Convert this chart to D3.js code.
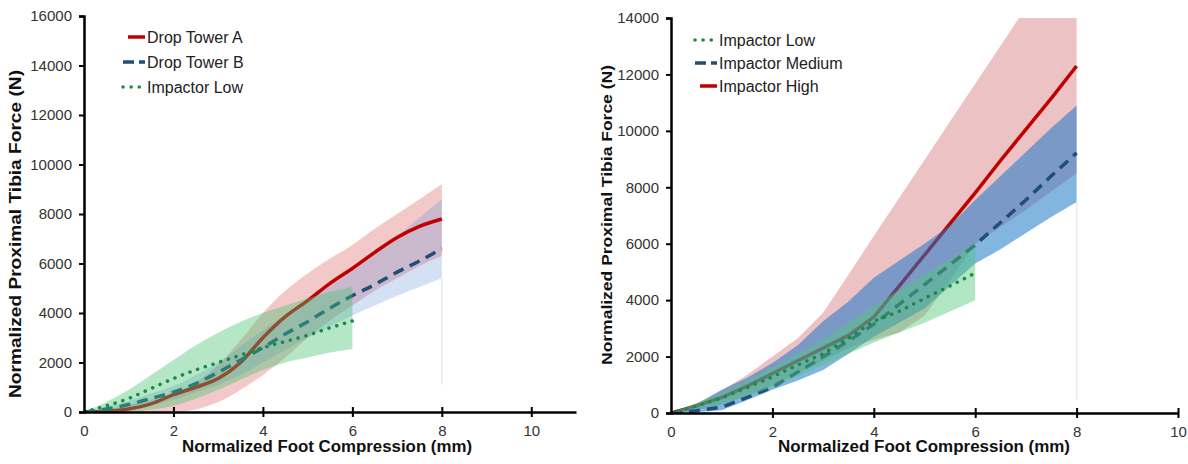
<!DOCTYPE html>
<html>
<head>
<meta charset="utf-8">
<style>
  body { margin: 0; background: #fff; }
  svg { display: block; font-family: "Liberation Sans", Arial, sans-serif; }
  .tick text { font-size: 15px; fill: #333; }
  .axis path, .axis line { stroke: #000; }
  .ttl { font-weight: bold; fill: #111; }
  .leg { font-size: 16px; fill: #222; }
</style>
</head>
<body>
<svg id="chart" width="1188" height="464"></svg>
<script src="https://cdn.jsdelivr.net/npm/d3@7"></script>
<script>
// ---- left panel data (x in mm, force in N)
const leftX = [0, 0.5, 1, 1.5, 2, 2.5, 3, 3.5, 4, 4.5, 5, 5.5, 6, 6.5, 7, 7.5, 8];
const dropA = [0, 30, 120, 330, 700, 1000, 1350, 2000, 3000, 3850, 4500, 5200, 5800, 6450, 7050, 7500, 7800];
const dropAHi = [0, 100, 300, 500, 750, 1200, 1900, 2900, 4000, 4900, 5600, 6200, 6750, 7400, 8000, 8600, 9200];
const dropALo = [0, 0, 0, 0, 0, 100, 400, 900, 1500, 2200, 3000, 3700, 4300, 4900, 5400, 5900, 6300];
const dropB = [0, 120, 300, 550, 800, 1150, 1600, 2100, 2600, 3150, 3650, 4200, 4700, 5150, 5650, 6100, 6600];
const dropBHi = [0, 200, 450, 750, 1050, 1500, 2000, 2650, 3300, 3900, 4500, 5100, 5700, 6400, 7100, 7850, 8600];
const dropBLo = [0, 50, 150, 300, 500, 800, 1100, 1500, 2000, 2500, 3000, 3450, 3900, 4300, 4700, 5050, 5400];
const lowX = [0, 0.5, 1, 1.5, 2, 2.5, 3, 3.5, 4, 4.5, 5, 5.5, 6];
const lowL = [0, 250, 550, 950, 1350, 1700, 2000, 2300, 2600, 2850, 3100, 3400, 3680];
const lowLHi = [0, 400, 900, 1500, 2100, 2700, 3200, 3650, 4000, 4300, 4600, 4850, 5050];
const lowLLo = [0, 0, 0, 100, 250, 550, 900, 1300, 1700, 2000, 2200, 2400, 2550];

// ---- right panel data
const rightX = [0, 0.5, 1, 1.5, 2, 2.5, 3, 3.5, 4, 4.5, 5, 5.5, 6, 6.5, 7, 7.5, 8];
const high = [0, 250, 550, 950, 1400, 1850, 2300, 2750, 3400, 4500, 5600, 6700, 7800, 8950, 10050, 11150, 12300];
const highHi = [0, 350, 800, 1350, 2000, 2650, 3550, 4900, 6270, 7620, 8970, 10320, 11670, 13020, 14370, 15720, 17070];
const highLo = [0, 100, 300, 600, 1000, 1400, 1850, 2300, 2600, 2850, 3450, 4700, 6000, 6600, 7200, 7850, 8500];
const med = [0, 80, 210, 550, 920, 1450, 1990, 2550, 3150, 3850, 4550, 5250, 5960, 6750, 7550, 8400, 9220];
const medHi = [0, 300, 820, 1250, 1770, 2400, 3250, 3950, 4790, 5400, 6000, 6650, 7550, 8400, 9250, 10100, 10900];
const medLo = [0, 30, 100, 450, 820, 1150, 1520, 2100, 2700, 3200, 3700, 4500, 5300, 5800, 6380, 6950, 7480];
const lowR = [0, 250, 530, 900, 1280, 1700, 2100, 2650, 3250, 3600, 4060, 4500, 4960];
const lowRHi = [0, 350, 700, 1150, 1600, 2100, 2600, 3200, 3800, 4350, 4900, 5450, 6030];
const lowRLo = [0, 150, 300, 600, 900, 1300, 1700, 2100, 2500, 2850, 3200, 3600, 4000];

const xTicks = [0, 2, 4, 6, 8, 10];

const RED = "#c00000", BLUE = "#1f4e79", GREEN = "#1b8a45";

const svg = d3.select("#chart");

function panel(cfg) {
  const x = d3.scaleLinear().domain(cfg.xDom).range(cfg.xRange);
  const y = d3.scaleLinear().domain(cfg.yDom).range(cfg.yRange);
  const g = svg.append("g");

  const clipId = "clip" + cfg.id;
  g.append("clipPath").attr("id", clipId).append("rect")
    .attr("x", cfg.xRange[0]).attr("y", cfg.yRange[1])
    .attr("width", cfg.xRange[1] - cfg.xRange[0])
    .attr("height", cfg.yRange[0] - cfg.yRange[1]);
  const plot = g.append("g").attr("clip-path", `url(#${clipId})`);

  const area = (xs, lo, hi) => d3.area().curve(cfg.curve)
    .x((d, i) => x(xs[i])).y0((d, i) => y(lo[i])).y1((d, i) => y(hi[i]))(xs);
  const line = (xs, ys) => d3.line().x((d, i) => x(xs[i])).y((d, i) => y(ys[i]))
    .curve(cfg.curve)(xs);

  // faint vertical error line at the last point
  plot.append("line")
    .attr("x1", x(8)).attr("x2", x(8))
    .attr("y1", y(cfg.faint[0])).attr("y2", y(cfg.faint[1]))
    .attr("stroke", "#e3ebf5").attr("stroke-width", 1.5);

  cfg.layers.forEach(l => {
    if (l.type === "band") {
      plot.append("path").attr("d", area(l.xs, l.lo, l.hi)).attr("fill", l.fill);
    } else {
      plot.append("path").attr("d", line(l.xs, l.ys))
        .attr("fill", "none").attr("stroke", l.color).attr("stroke-width", 3.5)
        .attr("stroke-linecap", l.dash === "dot" ? "round" : "butt")
        .attr("stroke-dasharray", l.dash === "dash" ? "11,7" : l.dash === "dot" ? "0.1,8" : null);
    }
  });

  // axes
  const yAxis = g.append("g").attr("class", "axis")
    .attr("transform", `translate(${cfg.xRange[0]},0)`)
    .call(d3.axisLeft(y).tickValues(d3.range(cfg.yDom[0], cfg.yDom[1] + 1, 2000))
      .tickSize(5).tickPadding(7).tickFormat(d3.format("d")));
  yAxis.select(".domain").attr("stroke-width", 2.5);
  yAxis.selectAll(".tick line").attr("stroke-width", 2);

  const xAxis = g.append("g").attr("class", "axis")
    .attr("transform", `translate(0,${cfg.yRange[0]})`)
    .call(d3.axisBottom(x).tickValues(xTicks).tickSize(5).tickPadding(8).tickSizeOuter(0));
  xAxis.select(".domain").attr("stroke-width", 2.5);
  xAxis.selectAll(".tick line").attr("y1", -5).attr("stroke-width", 2);
  xAxis.selectAll(".tick").filter(d => d === 0).select("line").remove();

  // titles
  g.append("text").attr("class", "ttl")
    .attr("x", cfg.xTitle[0]).attr("y", cfg.xTitle[1])
    .attr("text-anchor", "middle").attr("font-size", cfg.xTitle[3])
    .attr("textLength", cfg.xTitle[2]).attr("lengthAdjust", "spacingAndGlyphs")
    .text("Normalized Foot Compression (mm)");
  g.append("text").attr("class", "ttl")
    .attr("transform", `translate(${cfg.yTitle[0]},${cfg.yTitle[1]}) rotate(-90)`)
    .attr("text-anchor", "middle").attr("font-size", cfg.yTitle[3])
    .attr("textLength", cfg.yTitle[2]).attr("lengthAdjust", "spacingAndGlyphs")
    .text("Normalized Proximal Tibia Force (N)");

  // legend
  cfg.legend.forEach((l, i) => {
    const ly = cfg.legPos[1] + i * cfg.legStep;
    g.append("line")
      .attr("x1", cfg.legPos[0] + (l.dash ? 0 : 5)).attr("x2", cfg.legPos[0] + 22)
      .attr("y1", ly).attr("y2", ly)
      .attr("stroke", l.color).attr("stroke-width", 3.5)
      .attr("stroke-linecap", l.dash === "dot" ? "round" : "butt")
      .attr("stroke-dasharray", l.dash === "dash" ? "11,5" : l.dash === "dot" ? "0.1,8" : null);
    g.append("text").attr("class", "leg")
      .attr("x", cfg.legPos[0] + 24).attr("y", ly).attr("dy", "0.35em")
      .text(l.name);
  });
}

panel({
  id: "L", xDom: [0, 11], xRange: [84, 576], yDom: [0, 16000], yRange: [412, 16],
  curve: d3.curveMonotoneX,
  faint: [5400, 1100],
  layers: [
    { type: "band", xs: leftX, lo: dropALo, hi: dropAHi, fill: "rgba(222,110,110,0.38)" },
    { type: "band", xs: leftX, lo: dropBLo, hi: dropBHi, fill: "rgba(100,145,215,0.28)" },
    { type: "line", xs: leftX, ys: dropA, color: RED },
    { type: "line", xs: leftX, ys: dropB, color: BLUE, dash: "dash" },
    { type: "band", xs: lowX, lo: lowLLo, hi: lowLHi, fill: "rgba(70,195,115,0.4)" },
    { type: "line", xs: lowX, ys: lowL, color: GREEN, dash: "dot" }
  ],
  xTitle: [327, 452, 290, 16], yTitle: [21, 234, 328, 16],
  legPos: [123, 37], legStep: 25,
  legend: [
    { name: "Drop Tower A", color: RED },
    { name: "Drop Tower B", color: BLUE, dash: "dash" },
    { name: "Impactor Low", color: GREEN, dash: "dot" }
  ]
});

panel({
  id: "R", xDom: [0, 10], xRange: [671, 1178], yDom: [0, 14000], yRange: [413, 18],
  curve: d3.curveLinear,
  faint: [7480, 460],
  layers: [
    { type: "band", xs: rightX, lo: highLo, hi: highHi, fill: "rgba(205,95,100,0.38)" },
    { type: "line", xs: rightX, ys: high, color: RED },
    { type: "band", xs: rightX, lo: medLo, hi: medHi, fill: "rgba(30,120,200,0.55)" },
    { type: "line", xs: rightX, ys: med, color: BLUE, dash: "dash" },
    { type: "band", xs: lowX, lo: lowRLo, hi: lowRHi, fill: "rgba(80,200,120,0.45)" },
    { type: "line", xs: lowX, ys: lowR, color: GREEN, dash: "dot" }
  ],
  xTitle: [924, 452, 292, 16], yTitle: [612, 215, 300, 15],
  legPos: [695, 40], legStep: 23,
  legend: [
    { name: "Impactor Low", color: GREEN, dash: "dot" },
    { name: "Impactor Medium", color: BLUE, dash: "dash" },
    { name: "Impactor High", color: RED }
  ]
});
</script>
</body>
</html>
